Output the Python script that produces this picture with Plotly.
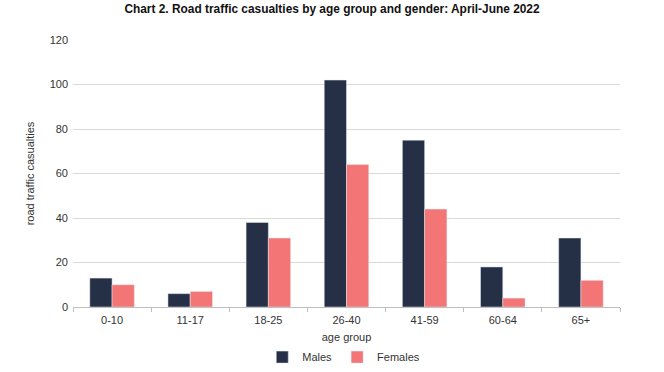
import plotly.graph_objects as go

categories = ["0-10", "11-17", "18-25", "26-40", "41-59", "60-64", "65+"]
males = [13, 6, 38, 102, 75, 18, 31]
females = [10, 7, 31, 64, 44, 4, 12]
y_ticks = [0, 20, 40, 60, 80, 100, 120]

fig = go.Figure()
fig.add_trace(go.Bar(x=categories, y=males, name="Males", marker_color="#253047"))
fig.add_trace(go.Bar(x=categories, y=females, name="Females", marker_color="#F47575"))

font_family = "Liberation Sans, Arial, sans-serif"
fig.update_layout(
    width=664, height=372,
    paper_bgcolor="white", plot_bgcolor="white",
    margin=dict(l=73, r=44, t=40, b=65),
    barmode="group", bargap=0.43, bargroupgap=0,
    font=dict(family=font_family, size=11, color="#333333"),
    title=dict(text="<b>Chart 2. Road traffic casualties by age group and gender: April-June 2022</b>",
               x=0.5, xanchor="center", y=0.976, yanchor="middle",
               font=dict(family=font_family, size=11.9, color="#111111")),
    legend=dict(orientation="h", x=0.495, xanchor="center", yref="container", y=0.04, yanchor="middle",
                font=dict(size=11, color="#333333"), itemwidth=30, traceorder="normal"),
    showlegend=True,
)
fig.update_xaxes(
    title=dict(text="age group", font=dict(size=11, color="#333333"), standoff=12),
    showline=True, linecolor="#BFBFBF", linewidth=1,
    ticks="outside", ticklen=4, tickcolor="#BFBFBF", tickson="boundaries",
    ticklabelstandoff=3, automargin=False,
    tickfont=dict(size=11, color="#333333"),
)
fig.update_yaxes(
    title=dict(text="road traffic casualties", font=dict(size=11, color="#333333"), standoff=12),
    range=[0, 120], tickvals=y_ticks,
    showgrid=True, gridcolor="#D9D9D9", gridwidth=1,
    zeroline=False, showline=False, ticklabelstandoff=4, automargin=False,
    tickfont=dict(size=11, color="#333333"),
)

fig.write_html("out.html", config={"displayModeBar": False},
               post_script="document.body.style.margin='0';")
